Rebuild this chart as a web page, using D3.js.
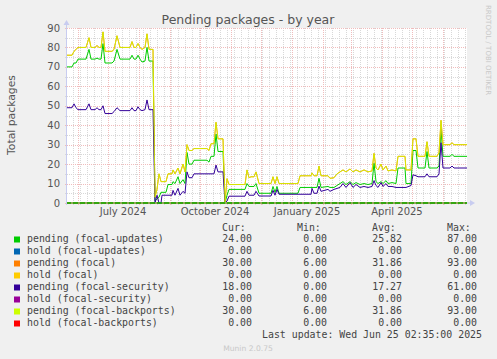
<!DOCTYPE html>
<html>
<head>
<meta charset="utf-8">
<script src="https://cdn.jsdelivr.net/npm/d3@7"></script>
<style>
  html, body { margin: 0; padding: 0; background: #f0f0f0; }
  svg { display: block; }
  .sans { font-family: "DejaVu Sans", sans-serif; }
  .mono { font-family: "DejaVu Sans Mono", monospace; }
</style>
</head>
<body>
<div id="chart"></div>
<script>
//chart data (day 0 = 2024-05-21, one point per breakpoint)
const startDay = "2024-05-21",
    endDay = "2025-06-25";

const dayOffsets = [0, 5, 7, 9, 11, 19, 22, 24, 28, 30, 32, 34, 36, 38, 45, 47, 50, 53, 63, 65,
  67, 69, 71, 73, 75, 78, 80, 82, 86, 88, 90, 92, 94, 95, 99, 101, 105, 106, 108, 111,
  113, 116, 118, 120, 122, 125, 127, 140, 142, 144, 147, 149, 151, 156, 158, 160, 162, 178, 180, 182,
  184, 187, 189, 192, 204, 206, 208, 210, 212, 231, 233, 244, 245, 247, 250, 252, 254, 261, 263, 267,
  270, 273, 276, 279, 283, 286, 289, 293, 297, 301, 305, 307, 309, 311, 314, 316, 319, 321, 325, 329,
  331, 338, 339, 344, 346, 349, 351, 358, 360, 362, 370, 372, 374, 376, 383, 385, 387, 400];

const pendingBackports = [76, 76, 78, 79, 80, 80, 85, 80, 80, 81, 80, 80, 88, 78, 78, 79, 86, 80, 80, 83,
  80, 80, 82, 80, 79, 80, 87, 79, 79, 3, 7, 15, 11, 11, 11, 15, 15, 17, 15, 18,
  15, 20, 16, 30, 27, 27, 28, 28, 27, 30.5, 30.5, 41.5, 33, 33, 0, 12.5, 9.5, 9.5, 17, 13,
  13.5, 13.5, 16, 10, 10, 13.5, 10, 13.5, 10, 10, 14, 14, 15.5, 14, 14, 19, 14, 14, 12.7, 13,
  15, 16, 17, 16, 17.5, 16, 17, 16, 17, 16, 16.5, 25.5, 18, 17, 20, 17, 19, 16.5, 17, 16.5,
  24, 24, 17, 17, 33, 33, 24, 24, 31.5, 24, 24, 26, 42.5, 30, 30, 31, 30, 30];

// pending (focal) follows the same values as the backports line and sits under it
const pendingFocal = pendingBackports.slice();

const pendingUpdates = [70, 70, 72, 72, 74, 74, 79, 74, 74, 74.5, 74, 74, 82, 72, 72, 73, 79, 74, 74, 76,
  74, 74, 76, 74, 72.5, 73, 80, 73, 73, 1, 2, 3, 5.5, 5.5, 5.5, 9.5, 9.5, 11, 10, 13.5,
  10, 12, 10, 26, 20, 20, 22, 22, 21, 24, 24, 35.5, 26.5, 26.5, 0, 4, 7, 7, 10, 8.5,
  8.5, 8.5, 10, 5, 5, 8.5, 5.5, 8.5, 5, 5, 8, 8, 8, 8, 8, 12.7, 8, 8.5, 8, 8,
  9, 10, 11, 9.5, 11, 9.5, 10.5, 9.5, 10, 9.5, 10, 20.5, 11, 10, 11, 10, 11.5, 10, 10.5, 10,
  18, 18, 10, 10, 27, 27, 18, 18, 26.5, 18, 18, 19, 38, 24, 24, 25, 24, 24];

const pendingSecurity = [49, 49, 51, 49, 48, 48, 51, 48, 48, 49, 48, 48, 50, 46, 46, 47, 49, 47.5, 47.5, 49,
  47.5, 47.5, 49.5, 48, 47.5, 48, 53, 48, 48, 0, 4, 0, 0, 4, 4, 4, 4, 6.5, 4, 7.5,
  4, 6, 5, 16, 13, 13, 15, 15, 15, 15, 15, 19.5, 16, 16, 0, 1, 3.5, 3.5, 6, 4,
  4, 4, 6, 3.6, 3.6, 6.5, 4, 7, 4.5, 4.5, 4.5, 4.5, 7.5, 5, 5, 8.7, 6, 7, 6, 7,
  7.5, 8, 10, 8, 10.5, 8, 9.5, 8, 8.5, 8, 8.5, 11.5, 9, 8, 10.5, 8.5, 10, 8.5, 8.5, 8,
  8, 8, 8, 9, 14.5, 14, 13.5, 13.5, 15, 13.5, 13.5, 15, 31, 18, 18, 19, 18, 18];

// hold counts stay at zero over the whole year
const holdDays = [0, 400];
const holdZero = [0, 0];

const seriesNames = ["pending (focal-updates)", "hold (focal-updates)", "pending (focal)", "hold (focal)",
  "pending (focal-security)", "hold (focal-security)", "pending (focal-backports)", "hold (focal-backports)"];
const seriesColors = ["#00cc00", "#0066b3", "#ff8000", "#ffcc00", "#330099", "#990099", "#ccff00", "#ff0000"];
const curValues = ["24.00", "0.00", "30.00", "0.00", "18.00", "0.00", "30.00", "0.00"];
const minValues = ["0.00", "0.00", "6.00", "0.00", "0.00", "0.00", "6.00", "0.00"];
const avgValues = ["25.82", "0.00", "31.86", "0.00", "17.27", "0.00", "31.86", "0.00"];
const maxValues = ["87.00", "0.00", "93.00", "0.00", "61.00", "0.00", "93.00", "0.00"];

const yTicks = [0, 10, 20, 30, 40, 50, 60, 70, 80, 90];

//layout constants
const width = 497,
    height = 359,
    plotLeft = 67,
    plotRight = 467,
    plotTop = 28,
    plotBottom = 203;

const parseDay = d3.utcParse("%Y-%m-%d");
const t0 = parseDay(startDay),
    t1 = parseDay(endDay);

const x = d3.scaleUtc().domain([t0, t1]).range([plotLeft, plotRight]);
const y = d3.scaleLinear().domain([0, 90]).range([plotBottom, plotTop]);

const svg = d3.select("#chart").append("svg")
    .attr("width", width)
    .attr("height", height);

svg.append("rect")
    .attr("width", width)
    .attr("height", height)
    .attr("fill", "#f0f0f0");

svg.append("rect")
    .attr("x", plotLeft)
    .attr("y", plotTop)
    .attr("width", plotRight - plotLeft)
    .attr("height", plotBottom - plotTop)
    .attr("fill", "#ffffff");

//grid
const grid = svg.append("g").attr("shape-rendering", "crispEdges");
const minorColor = "#d8d8d8",
    majorColor = "#f0bcbc";
const minorY = d3.range(5, 90, 10);
grid.selectAll(".hminor").data(minorY).enter().append("line")
    .attr("x1", plotLeft - 2).attr("x2", plotRight)
    .attr("y1", d => Math.round(y(d)) + 0.5).attr("y2", d => Math.round(y(d)) + 0.5)
    .attr("stroke", minorColor).attr("stroke-dasharray", "1,1");

const weeks = d3.utcMonday.range(t0, t1);
grid.selectAll(".vminor").data(weeks).enter().append("line")
    .attr("x1", d => Math.round(x(d)) + 0.5).attr("x2", d => Math.round(x(d)) + 0.5)
    .attr("y1", plotTop).attr("y2", plotBottom + 2)
    .attr("stroke", minorColor).attr("stroke-dasharray", "1,1");

grid.selectAll(".hmajor").data(yTicks).enter().append("line")
    .attr("x1", plotLeft - 2).attr("x2", plotRight)
    .attr("y1", d => Math.round(y(d)) + 0.5).attr("y2", d => Math.round(y(d)) + 0.5)
    .attr("stroke", majorColor).attr("stroke-dasharray", "1,1");

const months = d3.utcMonth.range(t0, t1);
grid.selectAll(".vmajor").data(months).enter().append("line")
    .attr("x1", d => Math.round(x(d)) + 0.5).attr("x2", d => Math.round(x(d)) + 0.5)
    .attr("y1", plotTop).attr("y2", plotBottom + 2)
    .attr("stroke", majorColor).attr("stroke-dasharray", "1,1");

//series lines: the flat hold lines go underneath, the pending lines on top
const seriesDays = [dayOffsets, holdDays, dayOffsets, holdDays, dayOffsets, holdDays, dayOffsets, holdDays];
const seriesValues = [pendingUpdates, holdZero, pendingFocal, holdZero, pendingSecurity, holdZero, pendingBackports, holdZero];
const drawOrder = [1, 3, 5, 7, 0, 2, 4, 6];

const line = d3.line()
    .x(d => x(d3.utcDay.offset(t0, d[0])))
    .y(d => y(d[1]));

drawOrder.forEach(i => {
  const pts = seriesDays[i].map((d, j) => [d, seriesValues[i][j]]);
  svg.append("path")
      .datum(pts)
      .attr("fill", "none")
      .attr("stroke", seriesColors[i])
      .attr("stroke-width", 1)
      .attr("stroke-opacity", i === 6 ? 0.8 : 1)
      .attr("stroke-linejoin", "round")
      .attr("d", line);
});

//axes: the zero line shows green with pink dashes, the arrows are pale blue
const axisColor = "#c8ccf0";
svg.append("line")
    .attr("x1", plotLeft - 0.5).attr("x2", plotLeft - 0.5)
    .attr("y1", plotBottom + 2).attr("y2", plotTop - 4)
    .attr("stroke", axisColor);
svg.append("path")
    .attr("d", `M${plotLeft - 3.5},${plotTop - 3} L${plotLeft - 0.5},${plotTop - 8} L${plotLeft + 2.5},${plotTop - 3} Z`)
    .attr("fill", axisColor);
svg.append("line")
    .attr("x1", plotLeft).attr("x2", plotRight)
    .attr("y1", y(0)).attr("y2", y(0))
    .attr("stroke", seriesColors[0])
    .attr("stroke-width", 1.4);
svg.append("line")
    .attr("x1", plotLeft + 4).attr("x2", plotRight)
    .attr("y1", y(0)).attr("y2", y(0))
    .attr("stroke", "#f2a8a8").attr("stroke-dasharray", "2,5");
svg.append("line")
    .attr("x1", plotRight).attr("x2", plotRight + 4)
    .attr("y1", plotBottom).attr("y2", plotBottom)
    .attr("stroke", axisColor);
svg.append("path")
    .attr("d", `M${plotRight + 3},${plotBottom - 3} L${plotRight + 8},${plotBottom} L${plotRight + 3},${plotBottom + 3} Z`)
    .attr("fill", axisColor);

//axis labels
svg.append("g").selectAll("text").data(yTicks).enter().append("text")
    .attr("class", "sans")
    .attr("x", plotLeft - 7)
    .attr("y", d => y(d))
    .attr("dy", "0.36em")
    .attr("text-anchor", "end")
    .attr("font-size", 10)
    .attr("fill", "#555")
    .text(d => d);

const quarterLabels = d3.utcMonth.every(3).range(t0, t1);
svg.append("g").selectAll("text").data(quarterLabels).enter().append("text")
    .attr("class", "sans")
    .attr("x", d => x(d3.utcDay.offset(d, 15)))
    .attr("y", 215)
    .attr("text-anchor", "middle")
    .attr("font-size", 10)
    .attr("fill", "#555")
    .text(d3.utcFormat("%B %Y"));

svg.append("text")
    .attr("class", "sans")
    .attr("x", 248)
    .attr("y", 24)
    .attr("text-anchor", "middle")
    .attr("font-size", 12.5)
    .attr("fill", "#555")
    .text("Pending packages - by year");

svg.append("text")
    .attr("class", "sans")
    .attr("transform", "translate(15,115) rotate(-90)")
    .attr("text-anchor", "middle")
    .attr("font-size", 10.8)
    .attr("fill", "#555")
    .text("Total packages");

svg.append("text")
    .attr("class", "sans")
    .attr("transform", "translate(486,5) rotate(90)")
    .attr("font-size", 7)
    .attr("fill", "#c8c8c8")
    .text("RRDTOOL / TOBI OETIKER");

//legend
const legend = svg.append("g").attr("class", "mono").attr("font-size", 9.9).attr("fill", "#444");
const headers = [["Cur:", 222], ["Min:", 297], ["Avg:", 372], ["Max:", 447]];
legend.selectAll(".hdr").data(headers).enter().append("text")
    .attr("x", d => d[1]).attr("y", 231)
    .text(d => d[0]);

const rows = legend.selectAll(".row").data(seriesNames).enter().append("g")
    .attr("transform", (d, i) => "translate(0," + (242 + i * 12) + ")");
rows.append("rect")
    .attr("x", 14).attr("y", -5.5)
    .attr("width", 6).attr("height", 6)
    .attr("fill", (d, i) => seriesColors[i]);
rows.append("text").attr("x", 27).text(d => d);
const cols = [[curValues, 252], [minValues, 327], [avgValues, 402], [maxValues, 477]];
cols.forEach(c => {
  rows.append("text")
      .attr("x", c[1])
      .attr("text-anchor", "end")
      .text((d, i) => c[0][i]);
});

legend.append("text")
    .attr("x", 482).attr("y", 338)
    .attr("text-anchor", "end")
    .text("Last update: Wed Jun 25 02:35:00 2025");

svg.append("text")
    .attr("class", "sans")
    .attr("x", 248).attr("y", 351)
    .attr("text-anchor", "middle")
    .attr("font-size", 7.6)
    .attr("fill", "#c8c8c8")
    .text("Munin 2.0.75");
</script>
</body>
</html>
